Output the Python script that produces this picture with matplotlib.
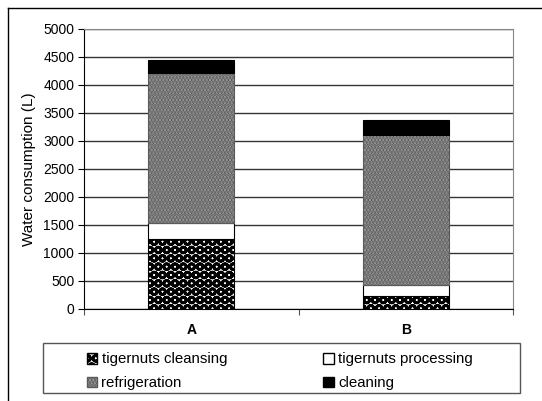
import matplotlib
matplotlib.use("Agg")
import matplotlib.pyplot as plt
from matplotlib.patches import Rectangle, Patch
from matplotlib.lines import Line2D
import numpy as np

plt.rcParams['font.family'] = ['Liberation Sans', 'DejaVu Sans']
plt.rcParams['hatch.linewidth'] = 2.0

scenarios = ['A', 'B']
cleansing = [1250, 230]
processing = [280, 190]
refrigeration = [2690, 2690]
cleaning = [230, 270]

fig = plt.figure(figsize=(5.42, 4.01), dpi=100)
ax = fig.add_axes([84/542, 1 - 309/401, 429/542, 280/401])

x = np.arange(len(scenarios))
w = 0.4
bottom = np.zeros(len(scenarios))

cleanse_style = dict(facecolor='white', edgecolor='black', hatch='OO')
refrig_style = dict(facecolor='#a4a4a4', edgecolor='#5a5a5a', hatch='.....')
styles = [
    (cleansing, cleanse_style),
    (processing, dict(facecolor='white', edgecolor='black')),
    (refrigeration, refrig_style),
    (cleaning, dict(facecolor='black', edgecolor='black')),
]
for vals, st in styles:
    ax.bar(x, vals, w, bottom=bottom, linewidth=0.8, zorder=3, **st)
    bottom += np.array(vals)

ax.set_xlim(-0.5, 1.5)
ax.set_ylim(0, 5000)
ax.set_yticks(np.arange(0, 5001, 500))
ax.yaxis.grid(True, color='#333333', linewidth=1)
ax.set_axisbelow(True)
ax.set_xticks([-0.5, 0.5, 1.5])
ax.set_xticklabels([])
ax.set_xticks(x, minor=True)
ax.set_xticklabels(scenarios, minor=True, fontweight='bold', fontsize=10)
ax.tick_params(axis='x', which='minor', length=0, pad=10)
ax.tick_params(axis='x', which='major', length=4, direction='out', color='#555555')
ax.tick_params(axis='y', labelsize=10, length=4, pad=3)
ax.set_ylabel('Water consumption (L)', fontsize=11, labelpad=5)

ax.spines['left'].set_color('black')
ax.spines['bottom'].set_color('black')
ax.spines['top'].set_color('#888888')
ax.spines['right'].set_color('#888888')

# legend frame drawn separately so the columns can sit where needed
fig.patches.append(Rectangle((43/542, 1 - 393/401), 477/542, 50/401,
                             transform=fig.transFigure, fill=False,
                             edgecolor='#555555', linewidth=1))
handles = [
    Patch(label='tigernuts cleansing', **cleanse_style),
    Patch(label='refrigeration', **refrig_style),
    Patch(facecolor='white', edgecolor='black', label='tigernuts processing'),
    Patch(facecolor='black', edgecolor='black', label='cleaning'),
]
fig.legend(handles=handles, ncol=2, loc='upper left',
           bbox_to_anchor=(73/542, 1 - 339/401), frameon=False,
           fontsize=10.8, handlelength=0.7, handleheight=0.7,
           handletextpad=0.3, columnspacing=6.4, labelspacing=0.65)

# outer border (left and top)
fig.add_artist(Line2D([8/542, 8/542], [0, 1 - 8/401], color='black', linewidth=1,
                      transform=fig.transFigure))
fig.add_artist(Line2D([8/542, 1], [1 - 8/401, 1 - 8/401], color='black', linewidth=1,
                      transform=fig.transFigure))

fig.savefig('out.png', dpi=100)
